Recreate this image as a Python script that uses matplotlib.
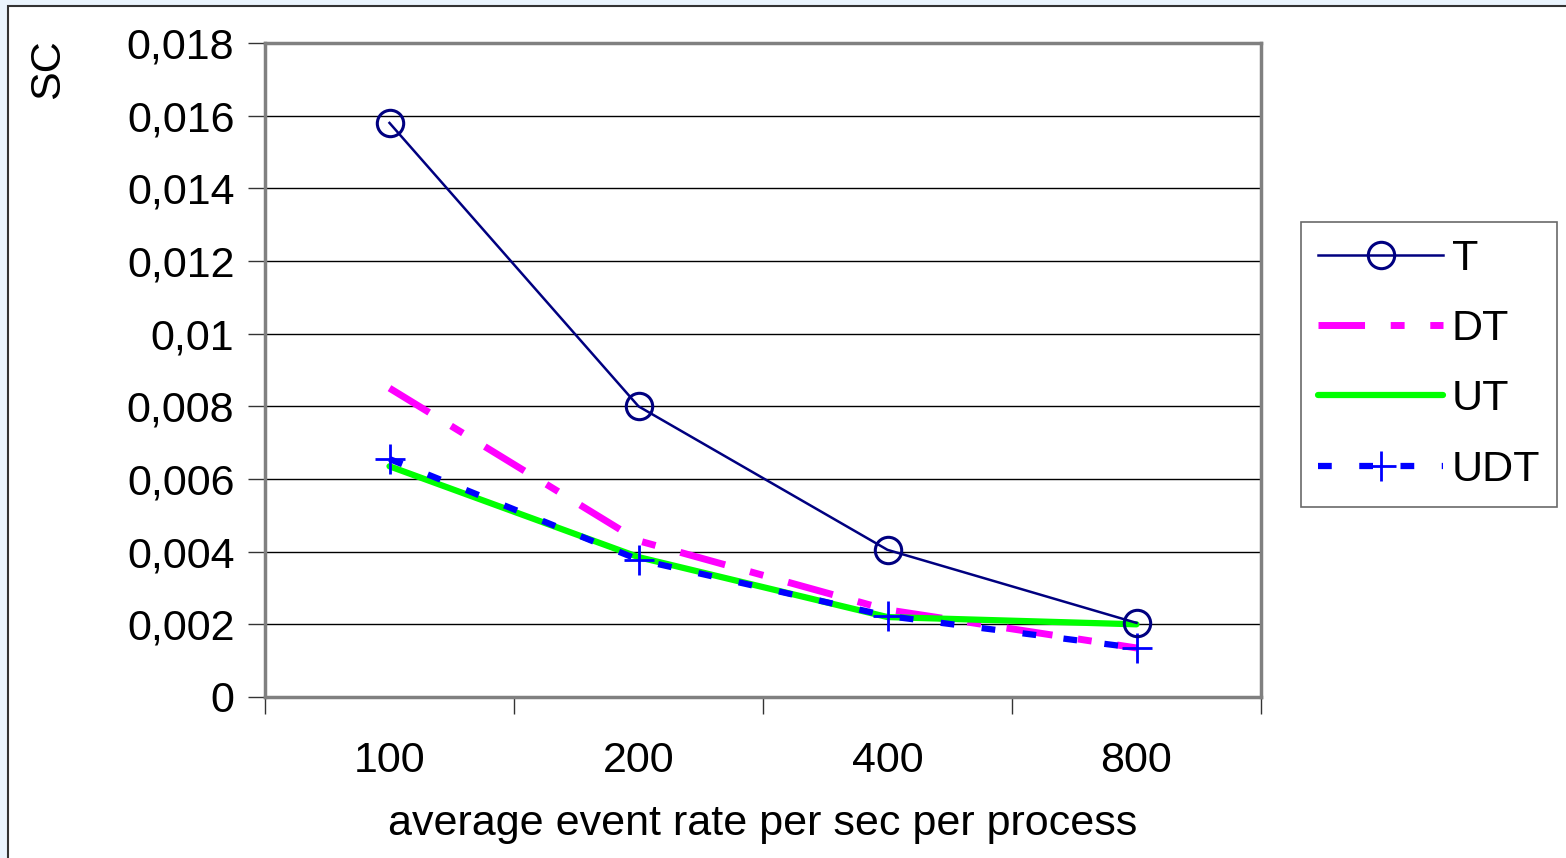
import matplotlib.pyplot as plt
from matplotlib.patches import Rectangle

# data
rates = ["100", "200", "400", "800"]
sc_T = [0.0158, 0.0080, 0.00405, 0.00204]
sc_DT = [0.0085, 0.0043, 0.0024, 0.00135]
sc_UT = [0.00635, 0.00385, 0.0022, 0.0020]
sc_UDT = [0.00655, 0.00378, 0.00223, 0.00135]
y_ticks = [0, 0.002, 0.004, 0.006, 0.008, 0.01, 0.012, 0.014, 0.016, 0.018]
y_labels = ["0", "0,002", "0,004", "0,006", "0,008", "0,01", "0,012", "0,014", "0,016", "0,018"]

plt.rcParams['font.family'] = ['Liberation Sans', 'DejaVu Sans']

fig = plt.figure(figsize=(15.66, 8.58), dpi=100)
fig.patch.set_facecolor("#eaf4fd")
# white chart area with dark frame (runs off the right/bottom of the image)
fig.patches.append(Rectangle((8 / 1566, -0.01), 1.02, (858 - 6) / 858 + 0.01,
                             transform=fig.transFigure, facecolor="white",
                             edgecolor="#333333", linewidth=1.5, zorder=-5))

ax = fig.add_axes([265 / 1566, (858 - 697) / 858, 996 / 1566, 654 / 858])
ax.set_facecolor("white")
x = range(len(rates))

ax.plot(x, sc_DT, color="#ff00ff", linewidth=5, dashes=(6.7, 3.7, 2, 3.7),
        label="DT", zorder=3)
ax.plot(x, sc_UT, color="#00ff00", linewidth=4.5, solid_capstyle="round",
        label="UT", zorder=3)
ax.plot(x, sc_UDT, color="#0000ff", linewidth=4.5, dashes=(2.2, 4.4),
        marker="+", markersize=21, markeredgewidth=2, label="UDT", zorder=4)
ax.plot(x, sc_T, color="#000080", linewidth=1.8, marker="o", markersize=19,
        markerfacecolor="none", markeredgewidth=2.2, label="T", zorder=5)

ax.set_xlim(-0.5, len(rates) - 0.5)
ax.set_ylim(0, 0.018)
ax.set_yticks(y_ticks)
ax.set_yticklabels(y_labels, fontsize=31)
ax.set_xticks([i - 0.5 for i in range(len(rates) + 1)])
ax.set_xticklabels([])
ax.set_xticks(list(x), minor=True)
ax.set_xticklabels(rates, minor=True, fontsize=31)
ax.tick_params(axis="x", which="major", length=12, width=1, color="#333333", direction="out")
ax.tick_params(axis="x", which="minor", length=0, pad=32)
ax.tick_params(axis="y", length=12, width=1, color="#333333", pad=10)
ax.grid(axis="y", color="black", linewidth=1)
ax.set_axisbelow(True)
for s in ax.spines.values():
    s.set_color("#808080")
    s.set_linewidth(2.5)

ax.set_xlabel("average event rate per sec per process", fontsize=31, labelpad=16)
ax.set_ylabel("SC", fontsize=31)
ax.yaxis.set_label_coords(-197 / 996, 1 - 26 / 654)
ax.yaxis.label.set_verticalalignment("bottom")

handles, labels = ax.get_legend_handles_labels()
order = [3, 0, 1, 2]
leg = ax.legend([handles[i] for i in order], [labels[i] for i in order],
                loc="upper left", bbox_to_anchor=(1036 / 996, 1 - 179 / 654),
                fontsize=31, frameon=True, fancybox=False, handlelength=2.9,
                handletextpad=0.2, labelspacing=0.7, borderpad=0.4,
                borderaxespad=0)
leg.get_frame().set_edgecolor("#444444")
leg.get_frame().set_linewidth(1.2)

fig.savefig("out.png", dpi=100, facecolor=fig.get_facecolor())
